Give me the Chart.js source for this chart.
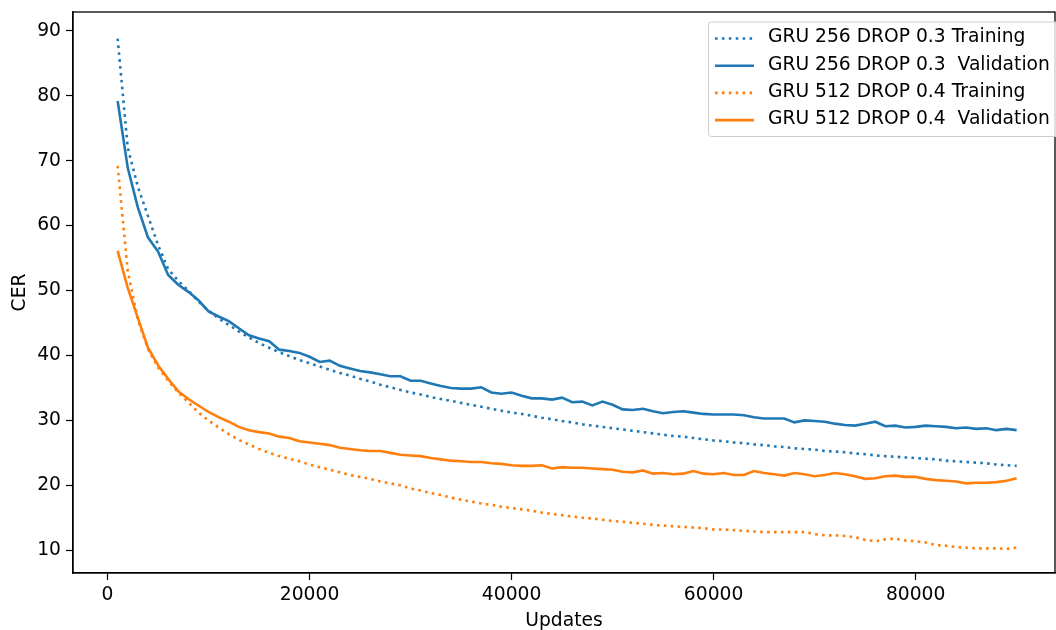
<!DOCTYPE html>
<html>
<head>
<meta charset="utf-8">
<title>CER vs updates</title>
<script src="https://cdn.jsdelivr.net/npm/chart.js@4.4.1/dist/chart.umd.min.js"></script>
<style>
  html, body { margin: 0; padding: 0; background: #fff; }
  canvas { display: block; }
</style>
</head>
<body>
<canvas id="cerChart" width="1056" height="630"></canvas>
<script>
// one checkpoint every 1000 updates, 1000 .. 90000
const updates = Array.from({ length: 90 }, (_, i) => (i + 1) * 1000);

const gru256Train = [
  88.8, 72.0, 66.0, 61.5, 57.0, 53.3, 51.5, 50.0, 48.3, 46.9,
  45.7, 44.7, 43.7, 42.8, 41.9, 41.2, 40.5, 39.9, 39.3, 38.8,
  38.3, 37.8, 37.3, 36.9, 36.4, 36.0, 35.5, 35.1, 34.7, 34.3,
  34.0, 33.6, 33.3, 33.0, 32.7, 32.4, 32.1, 31.8, 31.5, 31.2,
  31.0, 30.7, 30.4, 30.2, 29.9, 29.7, 29.4, 29.2, 29.0, 28.8,
  28.6, 28.4, 28.2, 28.0, 27.8, 27.6, 27.5, 27.3, 27.1, 26.9,
  26.8, 26.6, 26.5, 26.3, 26.2, 26.0, 25.9, 25.7, 25.6, 25.5,
  25.3, 25.2, 25.1, 24.9, 24.8, 24.6, 24.5, 24.4, 24.3, 24.2,
  24.1, 24.0, 23.8, 23.7, 23.6, 23.5, 23.4, 23.2, 23.1, 23.0
];

const gru256Valid = [
  79.2, 68.9, 62.8, 58.2, 56.0, 52.4, 50.9, 49.8, 48.5, 46.8,
  46.0, 45.3, 44.2, 43.1, 42.6, 42.2, 40.9, 40.7, 40.4, 39.8,
  39.0, 39.2, 38.4, 38.0, 37.6, 37.4, 37.1, 36.8, 36.8, 36.1,
  36.1, 35.7, 35.3, 35.0, 34.9, 34.9, 35.1, 34.3, 34.1, 34.3,
  33.8, 33.4, 33.4, 33.2, 33.5, 32.8, 32.9, 32.3, 32.9, 32.4,
  31.7, 31.6, 31.8, 31.4, 31.1, 31.3, 31.4, 31.2, 31.0, 30.9,
  30.9, 30.9, 30.8, 30.5, 30.3, 30.3, 30.3, 29.7, 30.0, 29.9,
  29.8, 29.5, 29.3, 29.2, 29.5, 29.8, 29.1, 29.2, 28.9, 29.0,
  29.2, 29.1, 29.0, 28.8, 28.9, 28.7, 28.8, 28.5, 28.7, 28.5
];

const gru512Train = [
  69.2, 53.0, 45.5, 41.0, 38.2, 36.1, 34.3, 32.8, 31.2, 30.0,
  28.9, 27.9, 27.0, 26.3, 25.6, 25.0, 24.5, 24.1, 23.7, 23.2,
  22.8, 22.4, 22.0, 21.6, 21.3, 21.0, 20.6, 20.3, 20.0, 19.5,
  19.2, 18.8, 18.5, 18.1, 17.8, 17.5, 17.2, 17.0, 16.7, 16.5,
  16.3, 16.1, 15.8, 15.6, 15.4, 15.2, 15.0, 14.9, 14.7, 14.5,
  14.4, 14.2, 14.1, 13.9, 13.8, 13.7, 13.6, 13.5, 13.4, 13.2,
  13.2, 13.1, 13.0, 12.9, 12.8, 12.8, 12.8, 12.8, 12.8, 12.5,
  12.3, 12.3, 12.2, 12.0, 11.6, 11.4, 11.7, 11.8, 11.5, 11.4,
  11.2, 10.8, 10.7, 10.5, 10.4, 10.3, 10.3, 10.3, 10.2, 10.4
];

const gru512Valid = [
  56.1, 50.4, 45.8, 41.2, 38.5, 36.4, 34.5, 33.3, 32.3, 31.3,
  30.5, 29.8, 29.0, 28.5, 28.2, 28.0, 27.5, 27.3, 26.8, 26.6,
  26.4, 26.2, 25.8, 25.6, 25.4, 25.3, 25.3, 25.0, 24.7, 24.6,
  24.5, 24.2, 24.0, 23.8, 23.7, 23.6, 23.6, 23.4, 23.3, 23.1,
  23.0, 23.0, 23.1, 22.6, 22.8, 22.7, 22.7, 22.6, 22.5, 22.4,
  22.1, 22.0, 22.3, 21.8, 21.9, 21.7, 21.8, 22.2, 21.8, 21.7,
  21.9, 21.6, 21.6, 22.2, 21.9, 21.7, 21.5, 21.9, 21.7, 21.4,
  21.6, 21.9, 21.7, 21.4, 21.0, 21.1, 21.4, 21.5, 21.3, 21.3,
  21.0, 20.8, 20.7, 20.6, 20.3, 20.4, 20.4, 20.5, 20.7, 21.1
];

const xTicks = [0, 20000, 40000, 60000, 80000];
const yTicks = [10, 20, 30, 40, 50, 60, 70, 80, 90];

const BLUE = '#1f77b4';
const ORANGE = '#ff7f0e';
const FONT = 'DejaVu Sans';
const FONT_SIZE = 18.7;

const toPoints = ys => ys.map((y, i) => ({ x: updates[i], y }));

function series(label, ys, color, dotted) {
  return {
    label,
    data: toPoints(ys),
    borderColor: color,
    backgroundColor: color,
    borderWidth: 2.6,
    borderDash: dotted ? [2.6, 4.3] : [],
    borderCapStyle: 'butt',
    pointRadius: 0,
    tension: 0,
    fill: false
  };
}

// drop the label overhang padding so the plot box sits where the layout says
function fixBox(s, size) {
  if (s.isHorizontal()) s.height = size; else s.width = size;
  s.paddingTop = 0; s.paddingBottom = 0;
  s.paddingLeft = 0; s.paddingRight = 0;
}

// black frame round the plot area (all four sides)
const frame = {
  id: 'frame',
  afterDatasetsDraw(chart) {
    const { ctx, chartArea: a } = chart;
    ctx.save();
    ctx.strokeStyle = '#000';
    ctx.lineWidth = 1.3;
    ctx.strokeRect(a.left, a.top, a.right - a.left, a.bottom - a.top);
    ctx.restore();
  }
};

// legend box in the upper right corner
const cornerLegend = {
  id: 'cornerLegend',
  afterDraw(chart) {
    const ctx = chart.ctx;
    const x0 = 708, y0 = 21.5, w = 360, h = 114.5;
    ctx.save();
    ctx.fillStyle = 'rgba(255,255,255,0.8)';
    ctx.strokeStyle = '#cccccc';
    ctx.lineWidth = 1;
    ctx.beginPath();
    ctx.roundRect(x0 + 0.5, y0 + 0.5, w, h, 3);
    ctx.fill();
    ctx.stroke();

    ctx.font = FONT_SIZE + 'px "' + FONT + '"';
    ctx.textBaseline = 'middle';
    ctx.fillStyle = '#000';
    chart.data.datasets.forEach((ds, i) => {
      const cy = 37.5 + i * 27.2;
      ctx.strokeStyle = ds.borderColor;
      ctx.lineWidth = ds.borderWidth;
      ctx.setLineDash(ds.borderDash);
      ctx.lineCap = 'butt';
      ctx.beginPath();
      ctx.moveTo(715, cy + 1);
      ctx.lineTo(754, cy + 1);
      ctx.stroke();
      ctx.setLineDash([]);
      ctx.fillText(ds.label, 768, cy);
    });
    ctx.restore();
  }
};

const tickFont = { family: FONT, size: FONT_SIZE };
const titleFont = { family: FONT, size: FONT_SIZE, lineHeight: 1 };

new Chart(document.getElementById('cerChart'), {
  type: 'line',
  data: {
    datasets: [
      series('GRU 256 DROP 0.3 Training', gru256Train, BLUE, true),
      series('GRU 256 DROP 0.3  Validation', gru256Valid, BLUE, false),
      series('GRU 512 DROP 0.4 Training', gru512Train, ORANGE, true),
      series('GRU 512 DROP 0.4  Validation', gru512Valid, ORANGE, false)
    ]
  },
  options: {
    responsive: false,
    animation: false,
    devicePixelRatio: 1,
    layout: { padding: { top: 12, right: 1, left: 0, bottom: 0 } },
    plugins: {
      legend: { display: false },
      tooltip: { enabled: false }
    },
    scales: {
      x: {
        type: 'linear',
        min: -3420,
        max: 93800,
        afterBuildTicks: s => { s.ticks = xTicks.map(v => ({ value: v })); },
        afterFit: s => fixBox(s, 57),
        grid: { drawOnChartArea: false, drawTicks: true, tickLength: 7, color: '#000', tickWidth: 1.2 },
        border: { display: true, color: '#000', width: 1.3 },
        ticks: { color: '#000', padding: 4, maxRotation: 0, font: tickFont, callback: v => String(v) },
        title: { display: true, text: 'Updates', color: '#000', padding: { top: 0, bottom: 0 }, font: titleFont }
      },
      y: {
        min: 6.5,
        max: 92.9,
        afterBuildTicks: s => { s.ticks = yTicks.map(v => ({ value: v })); },
        afterFit: s => fixBox(s, 73),
        grid: { drawOnChartArea: false, drawTicks: true, tickLength: 7, color: '#000', tickWidth: 1.2 },
        border: { display: true, color: '#000', width: 1.3 },
        ticks: { color: '#000', padding: 5, font: tickFont, callback: v => String(v) },
        title: { display: true, text: 'CER', color: '#000', padding: { top: 11, bottom: 0 }, font: titleFont }
      }
    }
  },
  plugins: [frame, cornerLegend]
});
</script>
</body>
</html>
